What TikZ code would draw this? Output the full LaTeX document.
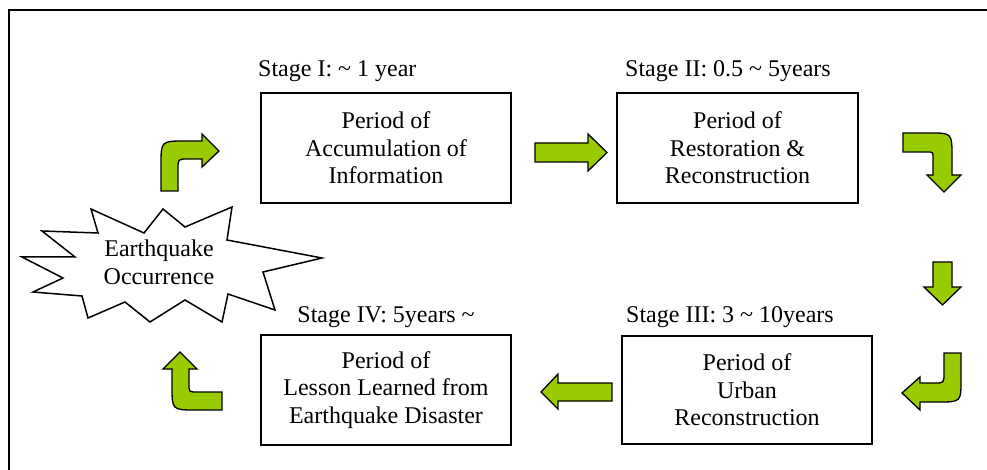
\documentclass[tikz,border=0pt]{standalone}
\usepackage{fontspec}
\setmainfont{Liberation Serif}
\usepackage{xcolor}
\definecolor{arrowgreen}{HTML}{99CC00}

\begin{document}
\begin{tikzpicture}[x=1pt,y=-1pt,
  font=\fontsize{24}{27.6}\selectfont,
  period/.style={draw,line width=2pt,align=center,inner sep=0pt},
  blockarrow/.style={fill=arrowgreen,draw=black,line width=1.3pt,line join=miter},
  stagelabel/.style={anchor=west,inner sep=0pt}]
 \useasboundingbox (0,0) rectangle (987,470);

 % outer frame (only top and left edge show)
 \draw[line width=2pt] (987,10)--(9,10)--(9,470);

 % the four periods
 \node[period,minimum width=250pt,minimum height=110pt] (acc) at (386,148) {Period of\\Accumulation of\\Information};
 \node[period,minimum width=241pt,minimum height=110pt] (res) at (737.5,148) {Period of\\Restoration \&\\Reconstruction};
 \node[period,minimum width=250pt,minimum height=108pt] (urb) at (747,390) {Period of\\Urban\\Reconstruction};
 \node[period,minimum width=250pt,minimum height=110pt] (les) at (386,390) {Period of\\Lesson Learned from\\Earthquake Disaster};

 \node[stagelabel] (s1) at (258,71) {Stage I: \textasciitilde{} 1 year};
 \node[stagelabel] (s2) at (625,71) {Stage II: 0.5 \textasciitilde{} 5years};
 \node[stagelabel] (s3) at (626,317) {Stage III: 3 \textasciitilde{} 10years};
 \node[anchor=center,inner sep=0pt] (s4) at (386,317) {Stage IV: 5years \textasciitilde};

 % earthquake burst
 \draw[fill=white,line width=1.5pt,line join=miter]
   (91,209)--(144,233)--(163,209)--(185,227)--(232,207)--(227,240)--(322,258)
   --(263,272)--(275,310)--(228,294)--(222,322)--(185,300)--(150,322)--(125,302)
   --(88,318)--(82,296)--(33,292)--(63,278)--(22,257)--(75,257)--(42,231)--(98,233)--cycle;
 \node[align=center,inner sep=0pt] (quake) at (159,262) {Earthquake\\Occurrence};

 % arrows
 \draw[blockarrow] (161,191)--(161,165) .. controls (161,141) .. (185,141)--(202,141)--(202,134)
   --(219,151)--(202,167)--(202,159)--(188,159) .. controls (178,159) .. (178,169)--(178,191)--cycle;
 \draw[blockarrow] (535,143)--(588,143)--(588,134)--(607,152.5)--(588,171)--(588,162)--(535,162)--cycle;
 \draw[blockarrow] (903,133)--(930,133) .. controls (952,133) .. (952,157)--(952,175)--(961,175)
   --(944,192)--(927,175)--(933,175)--(933,158) .. controls (933,152) .. (927,152)--(903,152)--cycle;
 \draw[blockarrow] (933,262)--(952,262)--(952,287)--(961,287)--(942.5,305)--(924,287)--(933,287)--cycle;
 \draw[blockarrow] (961,353)--(961,380) .. controls (961,402) .. (938,402)--(920,402)--(920,410)
   --(902,393)--(920,377)--(920,383)--(935,383) .. controls (944,383) .. (944,372)--(944,353)--cycle;
 \draw[blockarrow] (612,383)--(558,383)--(558,374)--(541,392)--(558,409)--(558,401)--(612,401)--cycle;
 \draw[blockarrow] (222,392)--(222,410)--(196,410) .. controls (172,410) .. (172,386)--(172,369)--(163,369)
   --(180,352)--(197,369)--(189,369)--(189,384) .. controls (189,392) .. (197,392)--cycle;

\end{tikzpicture}
\end{document}
